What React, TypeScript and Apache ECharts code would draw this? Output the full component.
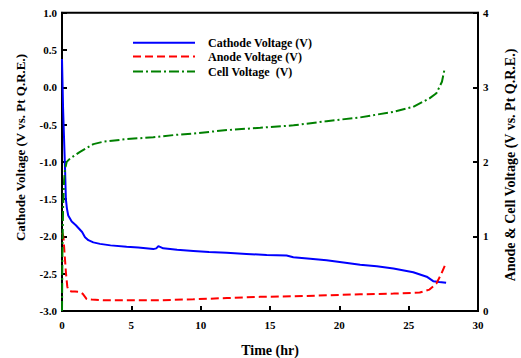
import React, { useEffect, useRef } from "react";
import * as echarts from "echarts";

const cathodeTime = [0, 0.08, 0.15, 0.22, 0.28, 0.35, 0.45, 0.7, 1.0, 1.2, 1.45, 1.66, 1.9, 2.26, 2.74, 3.5, 4.66, 5.5, 6.58, 6.8, 6.95, 7.3, 8.3, 9.47, 10.6, 11.87, 13.3, 14.76, 16.2, 16.68, 17.9, 19.08, 20.3, 21.5, 22.7, 23.9, 25.33, 26.3, 26.77, 27.2, 27.7];
const cathodeVolt = [0.38, -0.3, -0.7, -1.1, -1.5, -1.62, -1.72, -1.8, -1.85, -1.89, -1.94, -2.01, -2.05, -2.08, -2.1, -2.12, -2.14, -2.15, -2.17, -2.16, -2.13, -2.16, -2.18, -2.195, -2.21, -2.22, -2.235, -2.25, -2.255, -2.28, -2.3, -2.32, -2.35, -2.38, -2.4, -2.43, -2.48, -2.54, -2.6, -2.61, -2.62];

const anodeTime = [0.02, 0.1, 0.22, 0.29, 0.38, 0.45, 0.7, 0.94, 1.3, 1.5, 1.66, 1.78, 2.14, 3.0, 4.66, 7.07, 9.47, 11.9, 14.28, 16.7, 19.08, 21.5, 23.9, 25.8, 26.5, 27.0, 27.36, 27.67];
const anodeVolt = [1.05, 1.0, 0.68, 0.5, 0.33, 0.28, 0.26, 0.26, 0.255, 0.23, 0.19, 0.16, 0.155, 0.145, 0.144, 0.144, 0.157, 0.174, 0.19, 0.197, 0.21, 0.224, 0.233, 0.247, 0.287, 0.368, 0.5, 0.636];

const cellTime = [0, 0.03, 0.08, 0.15, 0.22, 0.34, 0.58, 1.3, 2.26, 2.98, 4.66, 6.58, 8.1, 9.47, 11.9, 14.3, 16.7, 19.08, 21.5, 23.9, 25.33, 26.5, 27.0, 27.4, 27.6];
const cellVolt = [0, 0.8, 1.4, 1.75, 1.9, 2.0, 2.045, 2.134, 2.238, 2.27, 2.305, 2.33, 2.36, 2.38, 2.426, 2.457, 2.49, 2.546, 2.596, 2.671, 2.738, 2.851, 2.92, 3.074, 3.254];

const seriesNames = ["Cathode Voltage (V)", "Anode Voltage (V)", "Cell Voltage  (V)"];
const seriesColors = ["#0000ff", "#ff0000", "#008000"];
const seriesDash: (number[] | "solid")[] = ["solid", [8, 4], [10, 3, 2, 3]];
const xTitle = "Time (hr)";
const leftTitle = "Cathode Voltage (V vs. Pt Q.R.E.)";
const rightTitle = "Anode & Cell Voltage (V vs. Pt Q.R.E.)";

const pairs = (t: number[], v: number[]) => t.map((x, i) => [x, v[i]]);

const FONT = "'Liberation Serif', 'Times New Roman', serif";

export default function App() {
  const ref = useRef<HTMLDivElement>(null);
  useEffect(() => {
    if (!ref.current) return;
    const chart = echarts.init(ref.current, undefined, { renderer: "svg" });
    const axisCommon = {
      axisLine: { show: true, onZero: false, lineStyle: { color: "#000", width: 2 } },
      axisTick: { show: true, inside: true, length: 5, lineStyle: { color: "#000", width: 2 } },
      splitLine: { show: false },
      axisLabel: { color: "#000", fontFamily: FONT, fontWeight: "bold", fontSize: 11 },
      nameTextStyle: { color: "#000", fontFamily: FONT, fontWeight: "bold", fontSize: 14 },
    };
    const legendY = [42.7, 56.5, 71.5];
    const legendGraphics: any[] = [];
    seriesNames.forEach((n, i) => {
      legendGraphics.push({
        type: "line",
        shape: { x1: 133, y1: legendY[i], x2: 195, y2: legendY[i] },
        style: { stroke: seriesColors[i], lineWidth: 2, lineDash: seriesDash[i] === "solid" ? null : seriesDash[i] },
      });
      legendGraphics.push({
        type: "text", x: 208, y: legendY[i],
        style: { text: n, fill: "#000", font: `bold 12px ${FONT}`, textAlign: "left", textVerticalAlign: "middle" },
      });
    });
    chart.setOption({
      animation: false,
      backgroundColor: "#fff",
      grid: {
        left: 62, right: 43, top: 12.7, bottom: 47,
        show: true, borderColor: "#000", borderWidth: 2,
        containLabel: false, outerBoundsMode: "none",
      },
      graphic: [
        ...legendGraphics,
        {
          type: "text", x: 20.8, y: 147.5, rotation: Math.PI / 2,
          style: { text: leftTitle, fill: "#000", font: `bold 13px ${FONT}`, textAlign: "center", textVerticalAlign: "middle" },
        },
        {
          type: "text", x: 510, y: 165, rotation: Math.PI / 2,
          style: { text: rightTitle, fill: "#000", font: `bold 14px ${FONT}`, textAlign: "center", textVerticalAlign: "middle" },
        },
      ],
      xAxis: {
        type: "value", min: 0, max: 30, interval: 5,
        name: xTitle, nameLocation: "middle", nameGap: 32,
        ...axisCommon,
        axisLabel: { ...axisCommon.axisLabel, margin: 8 },
      },
      yAxis: [
        {
          type: "value", min: -3, max: 1, interval: 0.5, position: "left",
          ...axisCommon,
          axisLabel: { ...axisCommon.axisLabel, margin: 5, formatter: (v: number) => v.toFixed(1) },
        },
        {
          type: "value", min: 0, max: 4, interval: 1, position: "right",
          ...axisCommon,
          axisLabel: { ...axisCommon.axisLabel, margin: 5 },
        },
      ],
      series: [
        {
          name: seriesNames[0], type: "line", yAxisIndex: 0, showSymbol: false, symbol: "none",
          data: pairs(cathodeTime, cathodeVolt),
          lineStyle: { color: seriesColors[0], width: 2 }, itemStyle: { color: seriesColors[0] },
        },
        {
          name: seriesNames[1], type: "line", yAxisIndex: 1, showSymbol: false, symbol: "none",
          data: pairs(anodeTime, anodeVolt),
          lineStyle: { color: seriesColors[1], width: 2, type: seriesDash[1] }, itemStyle: { color: seriesColors[1] },
        },
        {
          name: seriesNames[2], type: "line", yAxisIndex: 1, showSymbol: false, symbol: "none",
          data: pairs(cellTime, cellVolt),
          lineStyle: { color: seriesColors[2], width: 2, type: seriesDash[2] }, itemStyle: { color: seriesColors[2] },
        },
      ],
    });
    return () => chart.dispose();
  }, []);
  return <div ref={ref} style={{ position: "fixed", left: 0, top: 0, width: 521, height: 358 }} />;
}
